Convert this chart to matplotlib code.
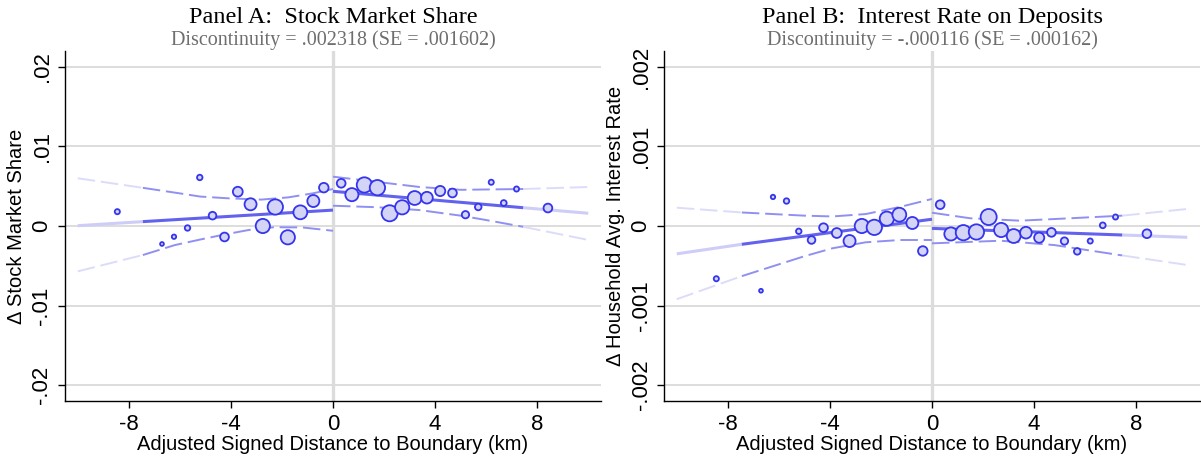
import numpy as np
import matplotlib
matplotlib.use("Agg")
import matplotlib.pyplot as plt

# bin centres (km), the same bins are used in both panels
bin_x = [-8.45, -6.70, -6.23, -5.70, -5.22, -4.72, -4.25, -3.73, -3.23, -2.75,
         -2.26, -1.77, -1.28, -0.77, -0.36,
         0.32, 0.74, 1.23, 1.74, 2.22, 2.71, 3.20, 3.68, 4.20, 4.68,
         5.19, 5.69, 6.20, 6.69, 7.19, 8.42]
# relative bin weight (marker area)
bin_w = [22, 12, 16, 25, 25, 49, 64, 81, 121, 169, 196, 169, 161, 121, 76,
         64, 144, 196, 196, 216, 169, 161, 114, 86, 64, 45, 36, 22, 28, 22, 64]

# Panel A: stock market share
a_y = [0.0018, -0.00226, -0.00135, -0.00025, 0.0061, 0.0013, -0.00138, 0.00431,
       0.00273, 0.0, 0.00239, -0.00142, 0.00172, 0.00314, 0.00482,
       0.00537, 0.00394, 0.00516, 0.00482, 0.0016, 0.00235, 0.00352, 0.00356,
       0.0044, 0.00415, 0.00142, 0.00239, 0.0055, 0.00289, 0.00465, 0.00226]

a_fit_l_x = [-10, -7.45, 0]
a_fit_l = [0.00004, 0.00055, 0.0020]
a_fit_r_x = [0, 7.45, 10]
a_fit_r = [0.00436, 0.0023, 0.0016]
a_up_l_x = [-10, -7.45, -6.0, -5.2, -4.1, -2.8, -1.75, -0.8, 0]
a_up_l = [0.0060, 0.0048, 0.0041, 0.0037, 0.00348, 0.00332, 0.0036, 0.0041, 0.00465]
a_lo_l_x = [-10, -7.45, -6.2, -5.2, -4.3, -3.3, -2.3, -1.2, 0]
a_lo_l = [-0.0057, -0.00365, -0.0024, -0.0017, -0.0011, -0.0005, -0.00015, -0.00018, -0.0006]
a_up_r_x = [0, 2.1, 3.4, 5.0, 7.45, 10]
a_up_r = [0.0062, 0.0054, 0.0049, 0.00455, 0.00465, 0.0049]
a_lo_r_x = [0, 1.8, 3.4, 5.0, 6.0, 7.45, 10]
a_lo_r = [0.00255, 0.00235, 0.0020, 0.0013, 0.00075, -0.0001, -0.00175]

# Panel B: interest rate on deposits
b_y = [-0.000663, -0.000814, 0.000365, 0.000314, -0.0000667, -0.000176, -0.0000214,
       -0.000088, -0.000189, 0.0, -0.000017, 0.000092, 0.000142, 0.000038, -0.000314,
       0.000268, -0.0001, -0.000084, -0.000075, 0.000113, -0.00005, -0.000126,
       -0.000084, -0.000147, -0.00008, -0.000189, -0.000319, -0.000189, 0.0000084,
       0.000113, -0.000097]

b_fit_l_x = [-10, -7.45, 0]
b_fit_l = [-0.00035, -0.00023, 0.000085]
b_fit_r_x = [0, 7.45, 10]
b_fit_r = [-0.00003, -0.000113, -0.000142]
b_up_l_x = [-10, -7.45, -5.0, -3.9, -2.6, -1.25, 0]
b_up_l = [0.00023, 0.00017, 0.00013, 0.00012, 0.00015, 0.00024, 0.00034]
b_lo_l_x = [-10, -7.45, -5.0, -3.9, -2.6, -1.25, 0]
b_lo_l = [-0.00092, -0.00063, -0.00038, -0.00028, -0.000205, -0.000176, -0.000176]
b_up_r_x = [0, 1.5, 3.45, 5.4, 7.45, 10]
b_up_r = [0.000167, 0.000097, 0.000067, 0.000097, 0.00013, 0.000214]
b_lo_r_x = [0, 2.7, 4.8, 7.45, 10]
b_lo_r = [-0.000218, -0.000185, -0.00024, -0.00037, -0.00049]

a_ticks = [-0.02, -0.01, 0, 0.01, 0.02]
a_ticklabels = ['-.02', '-.01', '0', '.01', '.02']
b_ticks = [-0.002, -0.001, 0, 0.001, 0.002]
b_ticklabels = ['-.002', '-.001', '0', '.001', '.002']
x_ticks = [-8, -4, 0, 4, 8]

titles = ['Panel A:  Stock Market Share', 'Panel B:  Interest Rate on Deposits']
subtitles = ['Discontinuity = .002318 (SE = .001602)',
             'Discontinuity = -.000116 (SE = .000162)']
ylabels = ['\u0394 Stock Market Share', '\u0394 Household Avg. Interest Rate']
xlabel = 'Adjusted Signed Distance to Boundary (km)'

SANS = 'Liberation Sans'
SERIF = 'Liberation Serif'
DARK_FIT = '#6262ee'
LIGHT_FIT = '#cdcdf8'
DARK_CI = '#9090f2'
LIGHT_CI = '#dcdcfa'
SUPPORT = 7.45  # fitted curves drawn darker inside the data support


def split_plot(ax, xs, ys, dark, light, **kw):
    xs = np.asarray(xs, float)
    ys = np.asarray(ys, float)
    inside = np.abs(xs) <= SUPPORT + 1e-9
    idx = np.where(inside)[0]
    lo, hi = idx[0], idx[-1]
    ax.plot(xs[lo:hi + 1], ys[lo:hi + 1], color=dark, zorder=3, **kw)
    if lo > 0:
        ax.plot(xs[:lo + 1], ys[:lo + 1], color=light, zorder=2, **kw)
    if hi < len(xs) - 1:
        ax.plot(xs[hi:], ys[hi:], color=light, zorder=2, **kw)


fig = plt.figure(figsize=(12.01, 4.57), dpi=100)
ax_a = fig.add_axes([65 / 1201, 56 / 457, 536 / 1201, 350 / 457])
ax_b = fig.add_axes([664 / 1201, 56 / 457, 536 / 1201, 350 / 457])

panels = [
    (ax_a, a_y, a_fit_l_x, a_fit_l, a_fit_r_x, a_fit_r,
     [(a_up_l_x, a_up_l), (a_lo_l_x, a_lo_l), (a_up_r_x, a_up_r), (a_lo_r_x, a_lo_r)],
     a_ticks, a_ticklabels, 0.022),
    (ax_b, b_y, b_fit_l_x, b_fit_l, b_fit_r_x, b_fit_r,
     [(b_up_l_x, b_up_l), (b_lo_l_x, b_lo_l), (b_up_r_x, b_up_r), (b_lo_r_x, b_lo_r)],
     b_ticks, b_ticklabels, 0.0022),
]

for i, (ax, ys, flx, fl, frx, fr, bands, yt, ytl, ylim) in enumerate(panels):
    ax.set_xlim(-10.5, 10.5)
    ax.set_ylim(-ylim, ylim)

    for t in yt:
        ax.axhline(t, color='#dddddd', lw=1.4, zorder=0)
    ax.axvline(0, color='#dcdcdc', lw=2.4, zorder=0.5)

    for bx, by in bands:
        split_plot(ax, bx, by, DARK_CI, LIGHT_CI, lw=1.4, dashes=(9, 3))
    split_plot(ax, flx, fl, DARK_FIT, LIGHT_FIT, lw=2.2, solid_capstyle='butt')
    split_plot(ax, frx, fr, DARK_FIT, LIGHT_FIT, lw=2.2, solid_capstyle='butt')

    ax.scatter(bin_x, ys, s=np.array(bin_w) * 0.62, facecolor='#d4d4f7',
               edgecolor='#3535ee', linewidth=1.3, zorder=5)

    for side in ['top', 'right']:
        ax.spines[side].set_visible(False)
    for side in ['left', 'bottom']:
        ax.spines[side].set_linewidth(1.0)
        ax.spines[side].set_color('black')

    ax.set_xticks(x_ticks)
    ax.set_xticklabels([str(v) for v in x_ticks], fontfamily=SANS, fontsize=16)
    ax.set_yticks(yt)
    ax.set_yticklabels(ytl, rotation=90, va='center', fontfamily=SANS, fontsize=16)
    ax.tick_params(direction='out', length=5, width=1, pad=4)

    ax.set_xlabel(xlabel, fontfamily=SANS, fontsize=14.5, labelpad=0.5)
    ax.set_ylabel(ylabels[i], fontfamily=SANS, fontsize=14.5, labelpad=4)

    pos = ax.get_position()
    cx = pos.x0 + pos.width / 2
    fig.text(cx, 1 - 23 / 457, titles[i], ha='center', va='baseline',
             fontfamily=SERIF, fontsize=17.5, color='black')
    fig.text(cx, 1 - 45 / 457, subtitles[i], ha='center', va='baseline',
             fontfamily=SERIF, fontsize=14.5, color='#6e6e6e')

fig.savefig('out.png', dpi=100)
